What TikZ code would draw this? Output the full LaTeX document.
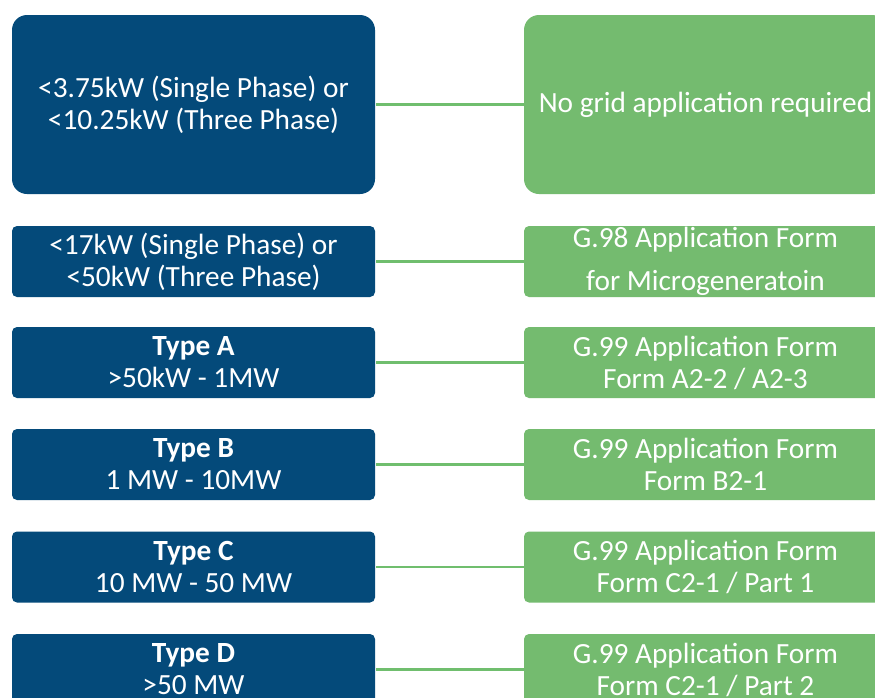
\documentclass[tikz,border=0pt]{standalone}
\usepackage{fontspec}
\setmainfont{Carlito}
\definecolor{boxblue}{RGB}{4,74,122}
\definecolor{boxgreen}{RGB}{116,187,111}
\definecolor{linegreen}{RGB}{112,190,110}
\tikzset{
  basebox/.style={rectangle, inner sep=0pt, minimum width=363pt, text=white, align=center, font=\fontsize{29.3}{32}\selectfont},
  bluebox/.style={basebox, fill=boxblue, rounded corners=5pt, minimum height=71pt},
  greenbox/.style={basebox, fill=boxgreen, rounded corners=5pt, minimum height=71pt},
  bigblue/.style={bluebox, rounded corners=15pt, minimum height=179pt},
  biggreen/.style={greenbox, rounded corners=15pt, minimum height=179pt},
  link/.style={draw=linegreen, line width=2.6pt}
}
\begin{document}
\begin{tikzpicture}[x=1pt,y=-1pt]
\useasboundingbox (0,0) rectangle (875,697);
\clip (0,0) rectangle (875,697);
\fill[white] (0,0) rectangle (875,697);
% left column
\node[bigblue] (l1) at (193.5,104.5) {<3.75kW (Single Phase) or\\<10.25kW (Three Phase)};
\node[bluebox] (l2) at (193.5,261.5) {<17kW (Single Phase) or\\<50kW (Three Phase)};
\node[bluebox] (l3) at (193.5,362.5) {\textbf{Type A}\\>50kW - 1MW};
\node[bluebox] (l4) at (193.5,464.5) {\textbf{Type B}\\1 MW - 10MW};
\node[bluebox] (l5) at (193.5,567) {\textbf{Type C}\\10 MW - 50 MW};
\node[bluebox] (l6) at (193.5,669.5) {\textbf{Type D}\\>50 MW};
% right column
\node[biggreen] (r1) at (705.5,104.5) {No grid application required};
\node[greenbox, font=\fontsize{29.3}{43}\selectfont] (r2) at (705.5,261.5) {G.98 Application Form\\for Microgeneratoin};
\node[greenbox] (r3) at (705.5,362.5) {G.99 Application Form\\Form A2-2 / A2-3};
\node[greenbox] (r4) at (705.5,464.5) {G.99 Application Form\\Form B2-1};
\node[greenbox] (r5) at (705.5,567) {G.99 Application Form\\Form C2-1 / Part 1};
\node[greenbox] (r6) at (705.5,669.5) {G.99 Application Form\\Form C2-1 / Part 2};
% connectors
\foreach \i in {1,...,6} {\draw[link] ([xshift=1pt]l\i.east) -- (r\i.west);}
\end{tikzpicture}
\end{document}
